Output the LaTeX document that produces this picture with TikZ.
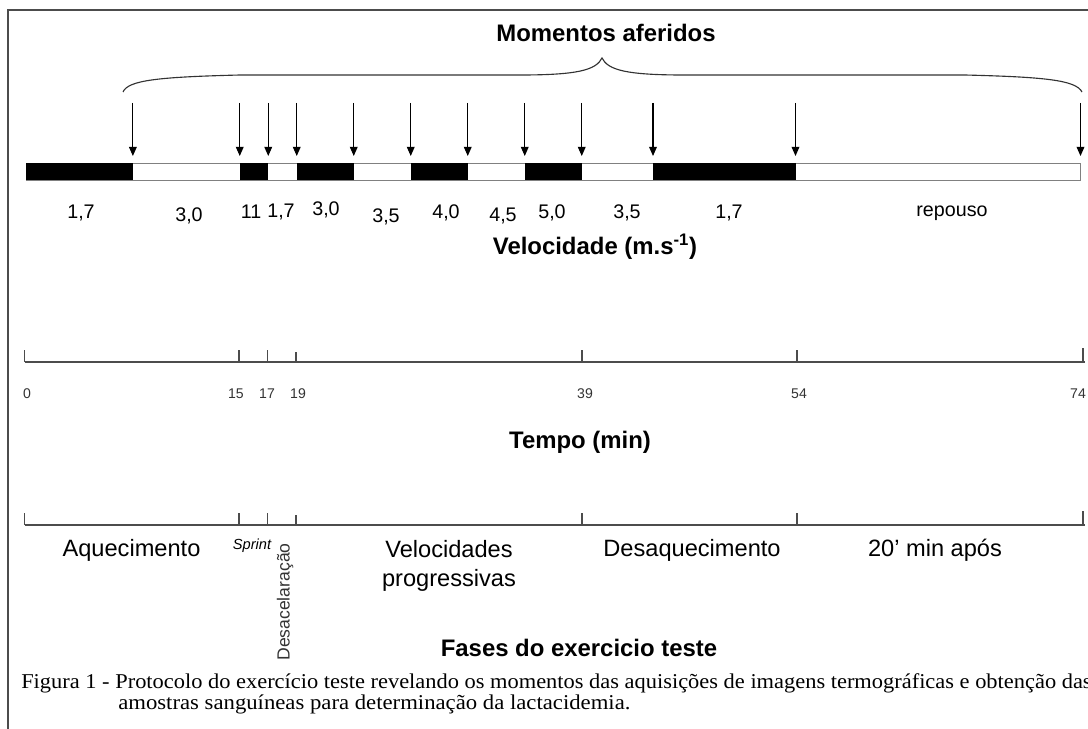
\documentclass[tikz,border=0pt]{standalone}
\usepackage{graphicx}
\usepackage{fontspec}
\setmainfont{Liberation Sans}
\newfontfamily\capfont{Liberation Serif}
\usetikzlibrary{arrows.meta,calc}

\begin{document}
\begin{tikzpicture}[x=0.025cm,y=-0.025cm,
    title/.style={font=\fontsize{17}{20}\selectfont\bfseries},
    speed/.style={font=\fontsize{14}{16}\selectfont},
    phase/.style={font=\fontsize{16.8}{21}\selectfont, align=center},
    tnum/.style={font=\fontsize{10}{12}\selectfont, text=black!80},
    axis/.style={line width=1.2pt, black!70},
    capline/.style={anchor=west, inner sep=0pt, font=\capfont\fontsize{15}{17}\selectfont},
    moment/.style={-{Triangle[width=5.5pt,length=6.5pt]}, line width=0.8pt}]
  \useasboundingbox (0,0) rectangle (1088,729);
  \clip (0,0) rectangle (1088,729);

  % frame round the figure
  \draw[line width=1pt, black!70] (8,760) |- (1120,10);

  % brace over the moments
  \draw[line width=0.8pt, black!80] (123,92) .. controls (128,80) and (160,77) .. (240,75)
      -- (520,75) .. controls (578,75) and (596,70) .. (602,58)
      .. controls (608,70) and (626,75) .. (684,75)
      -- (965,75) .. controls (1044,77) and (1076,80) .. (1082,92);
  \node[title] (mom) at (606,33) {Momentos aferidos};

  % speed bar
  \draw[black!50, line width=0.7pt] (26,163) rectangle ({26+14.25*74},180);
  \foreach \a/\b in {0/7.5, 15/17, 19/23, 27/31, 35/39, 44/54} {
      \fill ({26+14.25*\a},163) rectangle ({26+14.25*\b},180);
  }
  % Draw arrows (moments)
  \foreach \t in {7.5,15,17,19,23,27,31,35,39,44,54,74} {
      \draw[moment] ({26+14.25*\t},103) -- ({26+14.25*\t},156);
  }
  % speeds
  \foreach \x/\y/\v [count=\i] in {81/213/{1,7}, 189/216/{3,0}, 251/212/{11}, 281/212/{1,7},
      326/210/{3,0}, 386/217/{3,5}, 446/213/{4,0}, 503/216/{4,5}, 552/213/{5,0},
      627/213/{3,5}, 729/213/{1,7}, 952/213/{repouso}} {
      \node[speed] (v\i) at (\x,\y) {\v};
  }
  \node[title] (vel) at (595,247) {Velocidade (m.s\textsuperscript{-1})};

  % time axis
  \draw[axis] (24.5,362) -- (1085,362);
  \foreach \t/\l in {0/12, 15/12, 17/12, 19/10, 39/12, 54/12, 74/14} {
      \draw[axis] ({24.5+14.3*\t},362) -- ++(0,-\l);
  }
  \foreach \x/\v [count=\i] in {27/0, 236/15, 267/17, 298/19, 585/39, 799/54, 1078/74} {
      \node[tnum] (t\i) at (\x,394) {\v};
  }
  \node[title] (tempo) at (580,442) {Tempo (min)};

  % phase axis
  \draw[axis] (24.5,525) -- (1085,525);
  \foreach \t/\l in {0/12, 15/12, 17/12, 19/10, 39/12, 54/12, 74/14} {
      \draw[axis] ({24.5+14.3*\t},525) -- ++(0,-\l);
  }
  \node[phase] (aq) at (131.5,550) {Aquecimento};
  \node[font=\fontsize{10.4}{12}\selectfont\itshape] (spr) at (252,546) {Sprint};
  \node[font=\fontsize{12.5}{14}\selectfont, text=black!80, rotate=90] (des) at (285,602) {Desacelaração};
  \node[phase] (prog) at (449,566) {Velocidades\\progressivas};
  \node[phase] (desaq) at (692,550) {Desaquecimento};
  \node[phase] (pos) at (935,550) {20' min após};
  \node[title] (fases) at (579,648) {Fases do exercicio teste};

  % caption
  \node[capline] (cap1) at (21,683)
      {\resizebox{26.75cm}{\height}{Figura 1 - Protocolo do exercício teste revelando os momentos das aquisições de imagens termográficas e obtenção das}};
  \node[capline] (cap2) at (118,704)
      {\resizebox{12.8cm}{\height}{amostras sanguíneas para determinação da lactacidemia.}};
\end{tikzpicture}
\end{document}
